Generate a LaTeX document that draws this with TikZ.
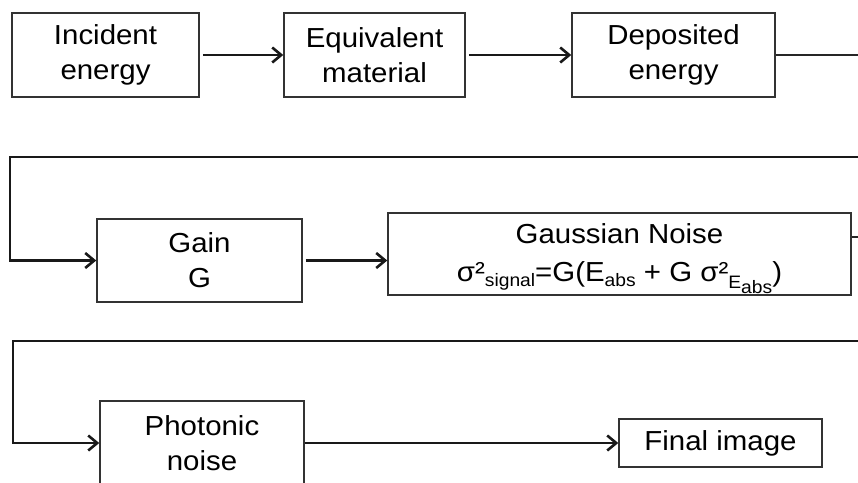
\documentclass[tikz,border=0pt]{standalone}
\usepackage{fontspec}
\setmainfont[FakeStretch=1.07]{Liberation Sans}
\usetikzlibrary{arrows.meta}
\newcommand\subf{\fontsize{18}{18}\selectfont}
\begin{document}
\begin{tikzpicture}[x=1pt,y=-1pt,
  txt/.style={inner sep=0pt, align=center, font=\fontsize{27.5}{35}\selectfont},
  box/.style={txt, draw=black!80, line width=1.5pt},
  conn/.style={line width=2.6pt, draw=black!90},
  thinconn/.style={line width=1.6pt, draw=black!85},
  arr/.style={conn, -{Straight Barb[length=9pt,width=15pt,line width=2.6pt]}}]
\useasboundingbox (0,0) rectangle (858,482);
\node[box, minimum width=187pt, minimum height=84pt] (inc) at (105.5,55) {Incident\\energy};
\node[box, minimum width=181pt, minimum height=84pt] (eq) at (374.5,55) {Equivalent\\material};
\node[box, minimum width=203pt, minimum height=84pt] (dep) at (673.5,55) {Deposited\\energy};
\node[box, minimum width=205pt, minimum height=83pt] (gain) at (199.5,260.5) {Gain\\G};
\node[box, minimum width=463pt, minimum height=82pt] (gauss) at (619.5,254) {};
\node[txt] (gausst) at ([yshift=-5pt]gauss.center) {Gaussian Noise\\[3pt]σ²\raisebox{-5pt}{\subf signal}=G(E\raisebox{-5pt}{\subf abs} + G σ²\raisebox{-7pt}{\subf E\raisebox{-5pt}{abs}})};
\node[box, minimum width=204pt, minimum height=84pt] (photo) at (202,443) {Photonic\\noise};
\node[box, minimum width=203pt, minimum height=48pt] (final) at (720.5,443) {Final image};
\coordinate (r0) at (858,52);
\coordinate (r1) at (858,157);
\coordinate (l1) at (10,157);
\coordinate (r2) at (858,237);
\coordinate (r3) at (858,341);
\coordinate (l3) at (13,341);
\draw[arr, shorten <=3pt] (inc.east) -- (eq.west);
\draw[arr, shorten <=3pt] (eq.east) -- (dep.west);
\draw[thinconn] (dep.east) -- (dep.east -| r0);
\draw[arr] (r1) -- (l1) |- (gain.west);
\draw[arr, shorten <=3pt] (gain.east) -- (gain.east -| gauss.west);
\draw[thinconn] (gauss.east |- r2) -- (r2);
\draw[arr] (r3) -- (l3) |- (photo.west);
\draw[arr] (photo.east) -- (final.west);
\end{tikzpicture}
\end{document}
